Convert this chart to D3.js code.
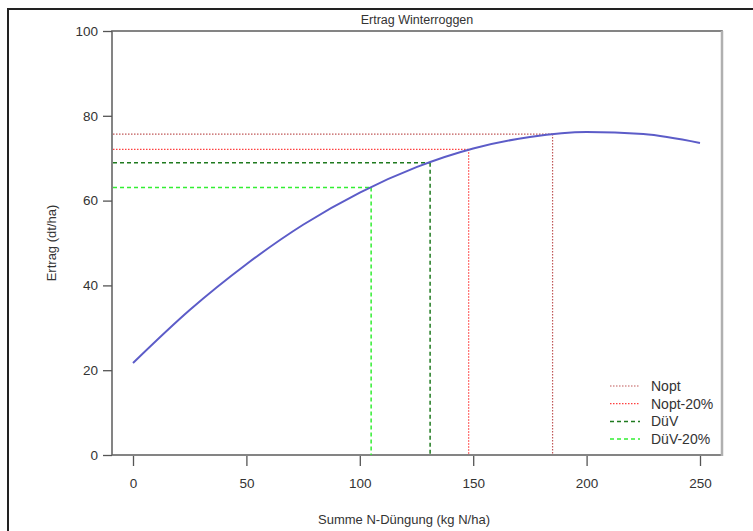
<!DOCTYPE html>
<html>
<head>
<meta charset="utf-8">
<script src="https://cdn.jsdelivr.net/npm/d3@7"></script>
<style>
	body { margin: 0; background: #fff; }
	svg text { font-family: "Liberation Sans", Arial, sans-serif; fill: #333; }
</style>
</head>
<body>
<svg id="vis" width="753" height="531"></svg>
<script>
// yield curve at every 25 kg N/ha
const nDose = [0, 25, 50, 75, 100, 125, 150, 175, 200, 225, 250];
const yieldCurve = [21.7, 34.2, 45.0, 54.3, 61.9, 67.9, 72.3, 75.0, 76.2, 75.7, 73.6];

// reference points (N amount and matching yield)
const refNames = ["Nopt", "Nopt-20%", "DüV", "DüV-20%"];
const refN = [185, 148, 131, 105];
const refYield = [75.7, 72.1, 68.9, 63.1];
const refColors = ["#c05858", "#ff4040", "#1f7a1f", "#33ee33"];
const refDash = ["1.5,1.5", "1.5,1.5", "4,3", "4,3"];

const xTicks = [0, 50, 100, 150, 200, 250];
const yTicks = [0, 20, 40, 60, 80, 100];

const svg = d3.select("svg#vis");

const plot = { left: 112, right: 722, top: 31, bottom: 455 };

const x = d3.scaleLinear().domain([0, 250]).range([133, 700]);
const y = d3.scaleLinear().domain([0, 100]).range([plot.bottom, plot.top]);

// outer frame of the screenshot
svg.append("rect")
	.attr("x", 8).attr("y", 9)
	.attr("width", 800).attr("height", 600)
	.attr("fill", "none")
	.attr("stroke", "#222")
	.attr("stroke-width", 2);

// plot box
svg.append("rect")
	.attr("x", plot.left).attr("y", plot.top)
	.attr("width", plot.right - plot.left)
	.attr("height", plot.bottom - plot.top)
	.attr("fill", "none")
	.attr("stroke", "#666")
	.attr("stroke-width", 1.6);

svg.append("line")
	.attr("x1", plot.right).attr("x2", plot.right)
	.attr("y1", plot.top).attr("y2", plot.bottom + 1)
	.attr("stroke", "#b0b0b0")
	.attr("stroke-width", 2.5);

// y axis
const yAxis = d3.axisLeft(y)
	.tickValues(yTicks)
	.tickSize(9)
	.tickPadding(5);

const gy = svg.append("g")
	.attr("transform", translate(plot.left, 0))
	.call(yAxis);
gy.select(".domain").remove();
gy.selectAll("line").attr("stroke", "#555").attr("stroke-width", 1.3);
gy.selectAll("text").style("font-size", "13.5px").attr("fill", "#333");

// x axis
const xAxis = d3.axisBottom(x)
	.tickValues(xTicks)
	.tickSize(10)
	.tickPadding(12);

const gx = svg.append("g")
	.attr("transform", translate(0, plot.bottom + 1))
	.call(xAxis);
gx.select(".domain").remove();
gx.selectAll("line").attr("stroke", "#555").attr("stroke-width", 1.3);
gx.selectAll("text").style("font-size", "13.5px").attr("fill", "#333");

// titles
svg.append("text")
	.attr("x", (plot.left + plot.right) / 2)
	.attr("y", 24)
	.attr("text-anchor", "middle")
	.style("font-size", "12.5px")
	.text("Ertrag Winterroggen");

svg.append("text")
	.attr("x", (plot.left + plot.right) / 2 - 13)
	.attr("y", 524)
	.attr("text-anchor", "middle")
	.style("font-size", "13px")
	.text("Summe N-Düngung (kg N/ha)");

svg.append("text")
	.attr("transform", translate(56, (plot.top + plot.bottom) / 2) + " rotate(-90)")
	.attr("text-anchor", "middle")
	.style("font-size", "13px")
	.text("Ertrag (dt/ha)");

// reference lines
const refs = refNames.map((name, i) => ({
	name: name, n: refN[i], yield: refYield[i], color: refColors[i], dash: refDash[i]
}));

const gRef = svg.append("g");

gRef.selectAll("line.h")
	.data(refs)
	.enter()
	.append("line")
	.attr("class", "h")
	.attr("x1", plot.left + 1)
	.attr("x2", d => x(d.n))
	.attr("y1", d => y(d.yield))
	.attr("y2", d => y(d.yield))
	.attr("stroke", d => d.color)
	.attr("stroke-dasharray", d => d.dash)
	.attr("stroke-width", (d, i) => i < 2 ? 1.2 : 1.5);

gRef.selectAll("line.v")
	.data(refs)
	.enter()
	.append("line")
	.attr("class", "v")
	.attr("x1", d => x(d.n))
	.attr("x2", d => x(d.n))
	.attr("y1", d => y(d.yield))
	.attr("y2", plot.bottom)
	.attr("stroke", d => d.color)
	.attr("stroke-dasharray", d => d.dash)
	.attr("stroke-width", (d, i) => i < 2 ? 1.2 : 1.5);

// yield curve
const line = d3.line()
	.x(d => x(d[0]))
	.y(d => y(d[1]))
	.curve(d3.curveMonotoneX);

svg.append("path")
	.datum(nDose.map((n, i) => [n, yieldCurve[i]]))
	.attr("d", line)
	.attr("fill", "none")
	.attr("stroke", "#5c5cc8")
	.attr("stroke-width", 2);

// legend
const legend = svg.append("g")
	.attr("transform", translate(610, 386));

const item = legend.selectAll("g.item")
	.data(refs)
	.enter()
	.append("g")
	.attr("class", "item")
	.attr("transform", (d, i) => translate(0, i * 17.7));

item.append("line")
	.attr("x1", 0).attr("x2", 30)
	.attr("stroke", d => d.color)
	.attr("stroke-dasharray", d => d.dash)
	.attr("stroke-width", (d, i) => i < 2 ? 1.2 : 1.5);

item.append("text")
	.attr("x", 41)
	.attr("dy", "0.35em")
	.style("font-size", "14px")
	.text(d => d.name);

//Helper
function translate(a, b) {
	return 'translate(' + a + ',' + b + ')';
}
</script>
</body>
</html>
